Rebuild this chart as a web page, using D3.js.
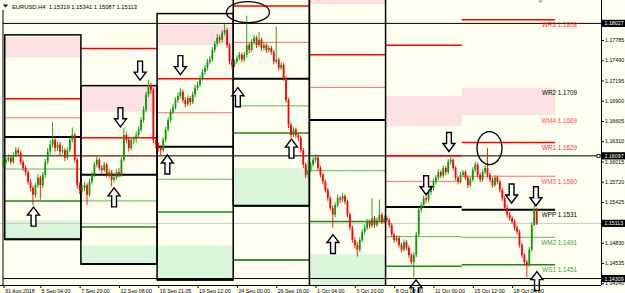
<!DOCTYPE html>
<html>
<head>
<meta charset="utf-8">
<style>
  body { margin: 0; background: #fffff0; }
  svg { display: block; font-family: "Liberation Sans", Arial, sans-serif; }
</style>
</head>
<body>
<div id="chart"></div>
<script src="https://cdn.jsdelivr.net/npm/d3@7"></script>
<script>
let w = 625;
let h = 293;
let plotRight = 601;
let plotBottom = 285;

// EURUSD H4, 31 Aug 20:00 .. 19 Oct 20:00 (open of a bar = close of the bar before)
const firstOpen = 1.1596;
const closes = [1.1600,
  1.1604,1.1607,1.1601,1.1611,1.1618,1.1614,1.1601,1.1592,1.1586,1.1572,1.1563,1.1553,1.1567,1.1578,1.1567,1.1582,1.1601,1.1616,1.1626,1.1633,1.1621,1.1626,1.1616,1.1618,1.1607,1.1618,1.1633,1.1640,1.1604,1.1567,1.1560,
  1.1563,1.1567,1.1553,1.1572,1.1582,1.1597,1.1604,1.1592,1.1589,1.1597,1.1582,1.1586,1.1575,1.1578,1.1586,1.1582,1.1604,1.1640,1.1633,1.1621,1.1633,1.1634,1.1640,1.1648,1.1662,1.1677,1.1699,1.1713,1.1706,1.1633,1.1626,
  1.1621,1.1618,1.1633,1.1648,1.1662,1.1674,1.1680,1.1691,1.1697,1.1703,1.1691,1.1685,1.1694,1.1688,1.1699,1.1709,1.1713,1.1723,1.1732,1.1738,1.1747,1.1750,1.1764,1.1773,1.1782,1.1779,1.1789,1.1793,1.1771,1.1747,1.1742,
  1.1747,1.1752,1.1757,1.1750,1.1757,1.1771,1.1764,1.1776,1.1782,1.1771,1.1779,1.1767,1.1771,1.1764,1.1767,1.1761,1.1747,1.1750,1.1738,1.1742,1.1723,1.1691,1.1655,1.1640,1.1648,1.1640,1.1636,1.1618,1.1597,1.1582,1.1589,
  1.1597,1.1604,1.1607,1.1592,1.1582,1.1572,1.1560,1.1548,1.1534,1.1524,1.1538,1.1548,1.1546,1.1551,1.1543,1.1524,1.1505,1.1487,1.1480,1.1473,1.1487,1.1499,1.1505,1.1514,1.1508,1.1519,1.1509,1.1516,1.1524,1.1514,1.1519,
  1.1516,1.1509,1.1495,1.1487,1.1490,1.1480,1.1473,1.1484,1.1476,1.1465,1.1455,1.1465,1.1495,1.1531,1.1538,1.1548,1.1546,1.1557,1.1563,1.1572,1.1578,1.1586,1.1581,1.1592,1.1586,1.1601,1.1604,1.1592,1.1578,1.1572,1.1582,
  1.1586,1.1578,1.1567,1.1575,1.1589,1.1597,1.1582,1.1575,1.1586,1.1592,1.1582,1.1575,1.1567,1.1578,1.1572,1.1560,1.1548,1.1534,1.1524,1.1519,1.1514,1.1505,1.1499,1.1480,1.1465,1.1455,1.1451,1.1473,1.1509,1.1532,1.1511];
const highs = [1.1605,
  1.1609,1.1612,1.1611,1.1615,1.1623,1.1622,1.1617,1.1604,1.1596,1.1589,1.1576,1.1566,1.1570,1.1583,1.1581,1.1586,1.1605,1.1621,1.1632,1.1659,1.1638,1.1631,1.1630,1.1624,1.1621,1.1622,1.1637,1.1651,1.1643,1.1607,1.1571,
  1.1568,1.1572,1.1570,1.1576,1.1586,1.1601,1.1609,1.1607,1.1596,1.1601,1.1600,1.1591,1.1589,1.1583,1.1590,1.1592,1.1608,1.1651,1.1644,1.1636,1.1637,1.1638,1.1645,1.1653,1.1666,1.1682,1.1703,1.1720,1.1716,1.1709,1.1636,
  1.1629,1.1625,1.1637,1.1652,1.1666,1.1678,1.1685,1.1695,1.1702,1.1708,1.1706,1.1695,1.1698,1.1697,1.1703,1.1713,1.1718,1.1727,1.1736,1.1742,1.1751,1.1755,1.1768,1.1777,1.1787,1.1786,1.1793,1.1802,1.1796,1.1774,1.1751,
  1.1750,1.1756,1.1761,1.1760,1.1761,1.1814,1.1774,1.1780,1.1786,1.1785,1.1790,1.1782,1.1775,1.1774,1.1771,1.1770,1.1764,1.1798,1.1753,1.1746,1.1745,1.1726,1.1694,1.1658,1.1652,1.1651,1.1643,1.1639,1.1621,1.1600,1.1604,
  1.1601,1.1608,1.1612,1.1610,1.1595,1.1585,1.1575,1.1563,1.1551,1.1537,1.1542,1.1553,1.1551,1.1555,1.1554,1.1546,1.1527,1.1508,1.1491,1.1484,1.1491,1.1503,1.1510,1.1518,1.1517,1.1548,1.1522,1.1520,1.1546,1.1527,1.1523,
  1.1522,1.1519,1.1512,1.1498,1.1494,1.1493,1.1483,1.1488,1.1487,1.1479,1.1468,1.1469,1.1499,1.1535,1.1542,1.1552,1.1551,1.1561,1.1567,1.1576,1.1582,1.1590,1.1589,1.1596,1.1595,1.1605,1.1608,1.1606,1.1595,1.1581,1.1586,
  1.1589,1.1589,1.1581,1.1579,1.1593,1.1601,1.1600,1.1585,1.1590,1.1596,1.1621,1.1585,1.1578,1.1582,1.1581,1.1575,1.1563,1.1551,1.1538,1.1528,1.1522,1.1517,1.1508,1.1502,1.1483,1.1468,1.1458,1.1477,1.1513,1.1538,1.1534];
const lows = [1.1593,
  1.1597,1.1601,1.1597,1.1598,1.1608,1.1610,1.1597,1.1588,1.1581,1.1568,1.1558,1.1538,1.1549,1.1563,1.1546,1.1563,1.1578,1.1597,1.1611,1.1622,1.1616,1.1617,1.1611,1.1612,1.1602,1.1604,1.1615,1.1629,1.1600,1.1562,1.1554,
  1.1556,1.1558,1.1538,1.1550,1.1568,1.1579,1.1593,1.1588,1.1584,1.1586,1.1578,1.1578,1.1565,1.1571,1.1575,1.1578,1.1579,1.1601,1.1628,1.1616,1.1618,1.1627,1.1629,1.1636,1.1645,1.1658,1.1673,1.1695,1.1700,1.1628,1.1621,
  1.1616,1.1611,1.1615,1.1630,1.1645,1.1658,1.1670,1.1677,1.1687,1.1693,1.1687,1.1680,1.1682,1.1683,1.1685,1.1695,1.1705,1.1710,1.1719,1.1728,1.1734,1.1743,1.1747,1.1760,1.1769,1.1774,1.1775,1.1785,1.1767,1.1743,1.1737,
  1.1739,1.1744,1.1749,1.1746,1.1747,1.1753,1.1759,1.1761,1.1772,1.1767,1.1768,1.1763,1.1763,1.1760,1.1760,1.1757,1.1743,1.1744,1.1734,1.1735,1.1719,1.1687,1.1650,1.1636,1.1637,1.1636,1.1631,1.1614,1.1592,1.1577,1.1578,
  1.1586,1.1594,1.1600,1.1588,1.1578,1.1568,1.1556,1.1544,1.1530,1.1505,1.1520,1.1535,1.1541,1.1542,1.1539,1.1520,1.1501,1.1483,1.1475,1.1463,1.1470,1.1484,1.1495,1.1501,1.1504,1.1505,1.1505,1.1506,1.1513,1.1510,1.1511,
  1.1513,1.1505,1.1491,1.1483,1.1484,1.1476,1.1469,1.1470,1.1472,1.1461,1.1451,1.1433,1.1462,1.1492,1.1527,1.1534,1.1541,1.1542,1.1553,1.1559,1.1568,1.1574,1.1577,1.1578,1.1582,1.1583,1.1597,1.1588,1.1574,1.1568,1.1569,
  1.1579,1.1574,1.1563,1.1564,1.1572,1.1586,1.1578,1.1571,1.1572,1.1583,1.1578,1.1571,1.1563,1.1564,1.1568,1.1556,1.1544,1.1530,1.1520,1.1515,1.1510,1.1501,1.1495,1.1476,1.1461,1.1450,1.1433,1.1448,1.1470,1.1507,1.1509];

const timeBars = [0, 15, 31, 47, 63, 79, 95, 111, 127, 143, 159, 175, 191, 207];
const timeLabels = ["31 Aug 2018", "5 Sep 04:00", "7 Sep 20:00", "12 Sep 08:00", "16 Sep 21:05", "19 Sep 12:00",
  "24 Sep 00:00", "26 Sep 16:00", "1 Oct 04:00", "3 Oct 20:00", "8 Oct 08:00", "11 Oct 00:00", "15 Oct 12:00", "18 Oct 04:00"];

const priceTicks = [1.17785, 1.17490, 1.17195, 1.16900, 1.16605, 1.16310, 1.16015, 1.15720, 1.15425, 1.14830, 1.14535, 1.14240];
const markedPrices = [1.18027, 1.16097, 1.14309];
const bidPrice = 1.15113;

// weekly pivots, one entry per week (3 Sep .. 15 Oct)
const weekStart = [0.5, 31.5, 62.5, 93.5, 124.5, 155.5, 186.5];
const weekEnd = [31.5, 62.5, 93.5, 124.5, 155.5, 186.5, 224.5];
const weekR3 = [1.1842, 1.1766, 1.1916, 1.2013, 1.2000, 1.1771, 1.1808];
const weekR2 = [1.1786, 1.1712, 1.1817, 1.1907, 1.1905, 1.1696, 1.1709];
const weekR1 = [1.1693, 1.1636, 1.1722, 1.1828, 1.1757, 1.1610, 1.1629];
const weekPP = [1.1637, 1.1582, 1.1623, 1.1722, 1.1662, 1.1535, 1.1531];
const weekS1 = [1.1544, 1.1506, 1.1528, 1.1643, 1.1514, 1.1449, 1.1451];
const weekS2 = [1.1488, 1.1452, 1.1429, 1.1537, 1.1419, 1.1374, 1.1353];
const weekS3 = [1.1395, 1.1376, 1.1334, 1.1458, 1.1271, 1.1288, 1.1273];
const weekBox = [true, true, true, true, true, false, false];
// shaded sell / buy zones (null = none)
const sellZoneTop = [1.1783, 1.1712, 1.1801, null, 1.1905, 1.1697, 1.1709];
const sellZoneBottom = [1.1753, 1.1674, 1.1771, null, 1.1831, 1.1653, 1.1669];
const buyZoneTop = [1.1516, 1.1479, 1.1479, 1.1592, 1.1466, null, null];
const buyZoneBottom = [1.1490, 1.1452, 1.1429, 1.1537, 1.1419, null, null];

const downArrowBars = [55.6, 72, 47.6, 181.3, 172, 206.8, 216.7];
const downArrowPrices = [1.1720, 1.1728, 1.1652, 1.1616, 1.1553, 1.1541, 1.1537];
const upArrowBars = [12.2, 45, 66.7, 95.4, 117.2, 134.1, 167.9, 217.1];
const upArrowPrices = [1.1535, 1.1563, 1.1611, 1.1709, 1.1634, 1.1495, 1.1429, 1.1441];
const circleBars = [99.5, 197.8];
const circlePrices = [1.1819, 1.1621];

const headerText = "EURUSD,H4  1.15319 1.15341 1.15087 1.15113";

// ---- scales ----
let x = d3.scaleLinear().domain([0, 217]).range([3.5, 3.5 + 217 * 2.457]);
let y = d3.scaleLinear().domain([1.14215, 1.18368]).range([plotBottom, 0]);

let svg = d3.select("#chart")
  .append("svg")
  .attr("width", w)
  .attr("height", h);

svg.append("rect").attr("width", w).attr("height", h).attr("fill", "#fffff0");

svg.append("defs").append("clipPath").attr("id", "plot")
  .append("rect").attr("x", 0).attr("y", 0).attr("width", plotRight).attr("height", plotBottom);

let plot = svg.append("g").attr("clip-path", "url(#plot)");

// week levels incl. mid pivots
let weeks = weekPP.map((pp, i) => {
  let r1 = weekR1[i], r2 = weekR2[i], r3 = weekR3[i];
  let s1 = weekS1[i], s2 = weekS2[i], s3 = weekS3[i];
  return {
    x0: x(weekStart[i]), x1: x(weekEnd[i]), box: weekBox[i],
    r3, r2, r1, pp, s1, s2, s3,
    m4: (r1 + r2) / 2, m3: (pp + r1) / 2, m2: (pp + s1) / 2, m1: (s1 + s2) / 2,
    sellTop: sellZoneTop[i], sellBottom: sellZoneBottom[i],
    buyTop: buyZoneTop[i], buyBottom: buyZoneBottom[i]
  };
});

// shaded zones
plot.selectAll("rect.pink")
  .data(weeks.filter(d => d.sellTop != null))
  .join("rect")
  .attr("class", "pink")
  .attr("x", d => d.x0)
  .attr("width", d => d.x1 - d.x0)
  .attr("y", d => y(d.sellTop))
  .attr("height", d => y(d.sellBottom) - y(d.sellTop))
  .attr("fill", "#fbe1e3");

plot.selectAll("rect.green")
  .data(weeks.filter(d => d.buyTop != null))
  .join("rect")
  .attr("class", "green")
  .attr("x", d => d.x0)
  .attr("width", d => d.x1 - d.x0)
  .attr("y", d => y(d.buyTop))
  .attr("height", d => y(d.buyBottom) - y(d.buyTop))
  .attr("fill", "#daf5da");

// long horizontal lines
plot.append("line")
  .attr("x1", 0).attr("x2", plotRight)
  .attr("y1", y(bidPrice)).attr("y2", y(bidPrice))
  .attr("stroke", "#c8c8c8").attr("stroke-width", 1);

plot.selectAll("line.mark")
  .data(markedPrices)
  .join("line")
  .attr("class", "mark")
  .attr("x1", 3).attr("x2", plotRight)
  .attr("y1", d => y(d)).attr("y2", d => y(d))
  .attr("stroke", "#000").attr("stroke-width", 1);

plot.append("line")
  .attr("x1", 3).attr("x2", 3).attr("y1", 10).attr("y2", plotBottom)
  .attr("stroke", "#000").attr("stroke-width", 1);

// pivot level lines (R2/S2 come with the boxes, M1/M4 are only zone edges)
let levelStyle = [
  { key: "r3", color: "#ff0000", width: 1.5 },
  { key: "r1", color: "#ff0000", width: 1.5 },
  { key: "m3", color: "#ff6a6a", width: 1 },
  { key: "pp", color: "#000000", width: 2 },
  { key: "m2", color: "#5cb85c", width: 1 },
  { key: "s1", color: "#1a8a1a", width: 1.5 },
  { key: "s2", color: "#000000", width: 2 },
  { key: "s3", color: "#006400", width: 1.5 }
];

levelStyle.forEach(st => {
  plot.selectAll("line.lv-" + st.key)
    .data(weeks)
    .join("line")
    .attr("class", "lv-" + st.key)
    .attr("x1", d => d.x0).attr("x2", d => d.x1)
    .attr("y1", d => y(d[st.key])).attr("y2", d => y(d[st.key]))
    .attr("stroke", st.color)
    .attr("stroke-width", st.width);
});

// week boxes
plot.selectAll("rect.box")
  .data(weeks.filter(d => d.box))
  .join("rect")
  .attr("class", "box")
  .attr("x", d => d.x0)
  .attr("width", d => d.x1 - d.x0)
  .attr("y", d => y(d.r2))
  .attr("height", d => y(d.s2) - y(d.r2))
  .attr("fill", "none")
  .attr("stroke", "#000")
  .attr("stroke-width", 1.5);

// candles
let bars = closes.map((c, i) => ({
  i: i, o: i == 0 ? firstOpen : closes[i - 1], h: highs[i], l: lows[i], c: c
}));

let candle = plot.selectAll("g.candle")
  .data(bars)
  .join("g")
  .attr("class", "candle");

candle.append("line")
  .attr("x1", d => x(d.i)).attr("x2", d => x(d.i))
  .attr("y1", d => y(d.h)).attr("y2", d => y(d.l))
  .attr("stroke", d => d.c >= d.o ? "#0a9a0a" : "#ff0000")
  .attr("stroke-width", 0.9);

candle.append("rect")
  .attr("x", d => x(d.i) - 0.9)
  .attr("width", 1.8)
  .attr("y", d => y(Math.max(d.o, d.c)))
  .attr("height", d => Math.max(0.8, y(Math.min(d.o, d.c)) - y(Math.max(d.o, d.c))))
  .attr("fill", d => d.c >= d.o ? "#0a9a0a" : "#ff0000");

// hand drawn arrows and circles
function arrowPath(dir) {
  // tip at 0,0
  let s = dir == "down" ? -1 : 1;
  let pts = [[0, 0], [6, 8], [2.4, 8], [2.4, 19], [-2.4, 19], [-2.4, 8], [-6, 8]];
  return "M" + pts.map(p => p[0] + "," + p[1] * s).join("L") + "Z";
}

let arrows = downArrowBars.map((b, i) => ({ b, p: downArrowPrices[i], dir: "down" }))
  .concat(upArrowBars.map((b, i) => ({ b, p: upArrowPrices[i], dir: "up" })));

svg.selectAll("path.arrow")
  .data(arrows)
  .join("path")
  .attr("class", "arrow")
  .attr("transform", d => `translate(${x(d.b)},${y(d.p)})`)
  .attr("d", d => arrowPath(d.dir))
  .attr("fill", "#fff")
  .attr("stroke", "#000")
  .attr("stroke-width", 1.4)
  .attr("stroke-linejoin", "miter");

let circleSize = [[21.5, 10.5], [12.5, 16.5]];
svg.selectAll("ellipse.mark")
  .data(circleBars)
  .join("ellipse")
  .attr("class", "mark")
  .attr("cx", d => x(d))
  .attr("cy", (d, i) => y(circlePrices[i]))
  .attr("rx", (d, i) => circleSize[i][0])
  .attr("ry", (d, i) => circleSize[i][1])
  .attr("fill", "none")
  .attr("stroke", "#000")
  .attr("stroke-width", 1.3);

// labels of the running week
let last = weeks[weeks.length - 1];
let labelItems = [
  ["WR3", last.r3, "#ff2a2a"], ["WR2", last.r2, "#000"], ["WM4", last.m4, "#ff4a5a"],
  ["WR1", last.r1, "#ff2a2a"], ["WM3", last.m3, "#ff4a5a"], ["WPP", last.pp, "#000"],
  ["WM2", last.m2, "#3e9e3e"], ["WS1", last.s1, "#3e9e3e"], ["WM1", last.m1, "#3e9e3e"], ["WS2", last.s2, "#000"]
].filter(d => y(d[1]) < plotBottom - 8);

svg.selectAll("text.lvl")
  .data(labelItems)
  .join("text")
  .attr("class", "lvl")
  .attr("x", 577)
  .attr("y", d => y(d[1]) + 7.5)
  .attr("text-anchor", "end")
  .attr("font-size", 6.3)
  .attr("fill", d => d[2])
  .text(d => d[0] + " " + d3.format(".4f")(d[1]));

// header
svg.append("path").attr("d", "M3,4.5L8,4.5L5.5,7.5Z").attr("fill", "#000");
svg.append("text")
  .attr("x", 12).attr("y", 9)
  .attr("font-size", 5.8)
  .attr("fill", "#000")
  .attr("xml:space", "preserve")
  .text(headerText);
svg.append("path").attr("d", "M538,0.5L543,0.5L540.5,3Z").attr("fill", "#a0a0a0");

// price axis
let yAxis = svg.append("g")
  .attr("transform", `translate(${plotRight},0)`)
  .call(d3.axisRight(y).tickValues(priceTicks).tickFormat(d3.format(".5f")).tickSize(3).tickPadding(1));
yAxis.select(".domain").attr("d", `M0.5,0V${plotBottom}`).attr("stroke", "#000");
yAxis.selectAll("text").attr("font-size", 5.3).attr("font-family", "Liberation Sans, Arial, sans-serif").attr("fill", "#000");

let boxed = markedPrices.concat([bidPrice]);
let tag = svg.selectAll("g.tag")
  .data(boxed)
  .join("g")
  .attr("class", "tag")
  .attr("transform", d => `translate(${plotRight + 1},${y(d)})`);
tag.append("rect").attr("x", 0).attr("y", -3.6).attr("width", 23).attr("height", 7.2).attr("fill", "#000");
tag.append("text")
  .attr("x", 2.5).attr("y", 2)
  .attr("font-size", 5.3)
  .attr("fill", "#fff")
  .text(d => d3.format(".5f")(d));

svg.append("rect")
  .attr("x", plotRight - 4).attr("y", y(markedPrices[1]) - 1.5)
  .attr("width", 3).attr("height", 3)
  .attr("fill", "#fff").attr("stroke", "#000").attr("stroke-width", 0.8);

// time axis
let xAxis = svg.append("g")
  .attr("transform", `translate(0,${plotBottom})`)
  .call(d3.axisBottom(x).tickValues(timeBars).tickFormat((d, i) => timeLabels[i]).tickSize(3).tickPadding(1));
xAxis.select(".domain").attr("d", `M0,0.5H${plotRight}`).attr("stroke", "#000");
xAxis.selectAll("text")
  .attr("text-anchor", "start")
  .attr("dx", 1)
  .attr("font-size", 5.3)
  .attr("font-family", "Liberation Sans, Arial, sans-serif")
  .attr("fill", "#000");
</script>
</body>
</html>
